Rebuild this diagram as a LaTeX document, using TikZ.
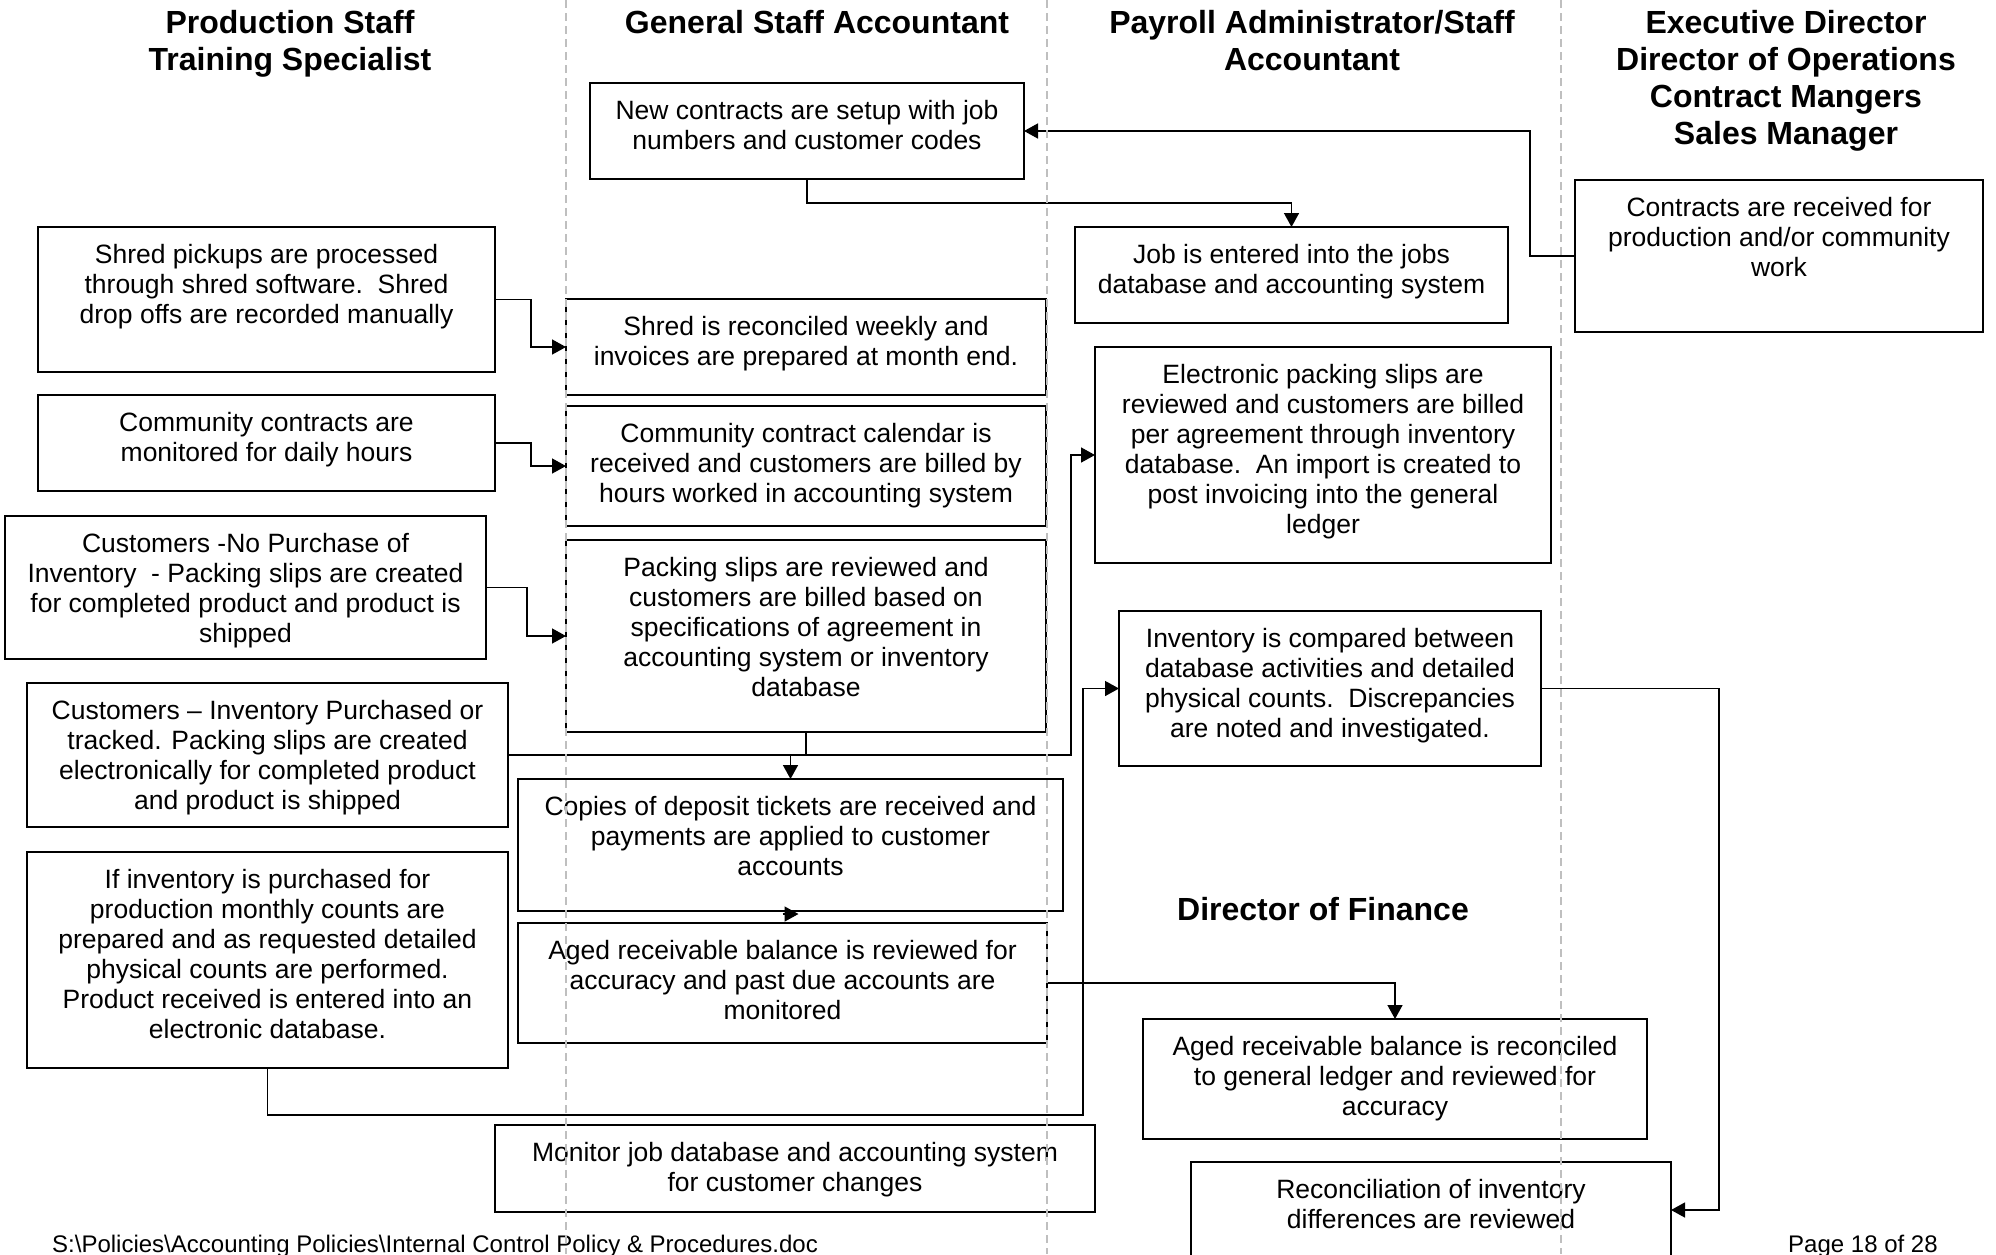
\documentclass[tikz,border=0pt]{standalone}
\usepackage{fontspec}
\setmainfont{Liberation Sans}
\usetikzlibrary{arrows.meta}
\tikzset{
  box/.style={draw=black, line width=1.5pt, fill=white, rectangle, inner sep=0pt, outer sep=0pt, anchor=north west},
  boxtext/.style={font=\fontsize{26.5}{30}\selectfont, align=center, inner sep=0pt, anchor=north},
  head/.style={font=\fontsize{32}{37}\selectfont\bfseries, align=center, inner sep=0pt, anchor=north},
  foot/.style={font=\fontsize{24}{28}\selectfont, inner sep=0pt, anchor=base west},
  conn/.style={draw=black, line width=1.5pt},
  arr/.style={conn, -{Triangle[length=14pt,width=15pt]}},
  lane/.style={draw=black!25, line width=2pt, dash pattern=on 8pt off 5pt},
}
\newcommand\procbox[6]{%
  \node[box, minimum width={(#4-#2)*1pt}, minimum height={(#5-#3)*1pt}] (#1) at (#2,#3) {};
  \node[boxtext] (#1-t) at ([yshift=-16.5pt]#1.north) {\rule{0pt}{20pt}#6};
}
\begin{document}
\begin{tikzpicture}[x=1pt,y=-1pt]
\useasboundingbox (0,0) rectangle (1996,1254);
\clip (0,0) rectangle (1996,1254);

% headers
\node[head] (h1) at (290,9.5) {\rule{0pt}{24pt}Production Staff\\Training Specialist};
\node[head] (h2) at (817,9.5) {\rule{0pt}{24pt}General Staff Accountant};
\node[head] (h3) at (1312,9.5) {\rule{0pt}{24pt}Payroll Administrator/Staff\\Accountant};
\node[head] (h4) at (1786,9.5) {\rule{0pt}{24pt}Executive Director\\Director of Operations\\Contract Mangers\\Sales Manager};
\node[head, anchor=base] (h5) at (1323,920) {Director of Finance};

% boxes
\procbox{newc}{590}{83}{1024}{179}{New contracts are setup with job\\numbers and customer codes}
\procbox{contr}{1575}{180}{1983}{332}{Contracts are received for\\production and/or community\\work}
\procbox{job}{1075}{227}{1508}{323}{Job is entered into the jobs\\database and accounting system}
\procbox{shredp}{38}{227}{495}{372}{Shred pickups are processed\\through shred software.\ \ Shred\\drop offs are recorded manually}
\procbox{shredr}{566}{299}{1046}{395}{Shred is reconciled weekly and\\invoices are prepared at month end.}
\procbox{commm}{38}{395}{495}{491}{Community contracts are\\monitored for daily hours}
\procbox{commcal}{566}{406}{1046}{526}{Community contract calendar is\\received and customers are billed by\\hours worked in accounting system}
\procbox{cust1}{5}{516}{486}{659}{Customers -No Purchase of\\Inventory\ \ - Packing slips are created\\for completed product and product is\\shipped}
\procbox{packrev}{566}{540}{1046}{732}{Packing slips are reviewed and\\customers are billed based on\\specifications of agreement in\\accounting system or inventory\\database}
\procbox{cust2}{27}{683}{508}{827}{Customers – Inventory Purchased or\\tracked. Packing slips are created\\electronically for completed product\\and product is shipped}
\procbox{deposit}{518}{779}{1063}{911}{Copies of deposit tickets are received and\\payments are applied to customer\\accounts}
\procbox{agedrev}{518}{923}{1047}{1043}{Aged receivable balance is reviewed for\\accuracy and past due accounts are\\monitored}
\procbox{ifinv}{27}{852}{508}{1068}{If inventory is purchased for\\production monthly counts are\\prepared and as requested detailed\\physical counts are performed.\\Product received is entered into an\\electronic database.}
\procbox{monitor}{495}{1125}{1095}{1212}{Monitor job database and accounting system\\for customer changes}
\procbox{elec}{1095}{347}{1551}{563}{Electronic packing slips are\\reviewed and customers are billed\\per agreement through inventory\\database.\ \ An import is created to\\post invoicing into the general\\ledger}
\procbox{invcomp}{1119}{611}{1541}{766}{Inventory is compared between\\database activities and detailed\\physical counts.\ \ Discrepancies\\are noted and investigated.}
\procbox{agedrec}{1143}{1019}{1647}{1139}{Aged receivable balance is reconciled\\to general ledger and reviewed for\\accuracy}
\procbox{recon}{1191}{1162}{1671}{1258}{Reconciliation of inventory\\differences are reviewed}

% connectors
\draw[arr] (contr.west) -- ++(-45,0) |- (newc.east);
\draw[arr] (newc.south) -- ++(0,24) -| (job.north);
\draw[arr] (shredp.east) -- ++(36,0) |- (shredr.west);
\draw[arr] (commm.east) -- ++(36,0) |- (commcal.west);
\draw[arr] (cust1.east) -- ++(41,0) |- (packrev.west);
\draw[arr] (packrev.south) -- ++(0,23) -| (deposit.north);
\draw[arr] (cust2.east) -- ++(563,0) |- (elec.west);
\draw[arr] (ifinv.south) -- ++(0,47) -| ([xshift=-36pt]invcomp.west) -- (invcomp.west);
\draw[arr] ([xshift=-8pt,yshift=-3pt]deposit.south) -- ([xshift=8pt,yshift=-3pt]deposit.south);
\draw[arr] (agedrev.east) -| (agedrec.north);
\draw[arr] (invcomp.east) -- ++(178,0) |- (recon.east);

% footer
\node[foot] (f1) at (52,1252) {S:\textbackslash Policies\textbackslash Accounting Policies\textbackslash Internal Control Policy \& Procedures.doc};
\node[foot] (f2) at (1788,1252) {Page 18 of 28};

% lane dividers
\coordinate (d1t) at (566,0); \coordinate (d1b) at (566,1254);
\coordinate (d2t) at (1047,0); \coordinate (d2b) at (1047,1254);
\coordinate (d3t) at (1561,0); \coordinate (d3b) at (1561,1254);
\draw[lane] (d1t) -- (d1b);
\draw[lane] (d2t) -- (d2b);
\draw[lane] (d3t) -- (d3b);
\end{tikzpicture}
\end{document}
